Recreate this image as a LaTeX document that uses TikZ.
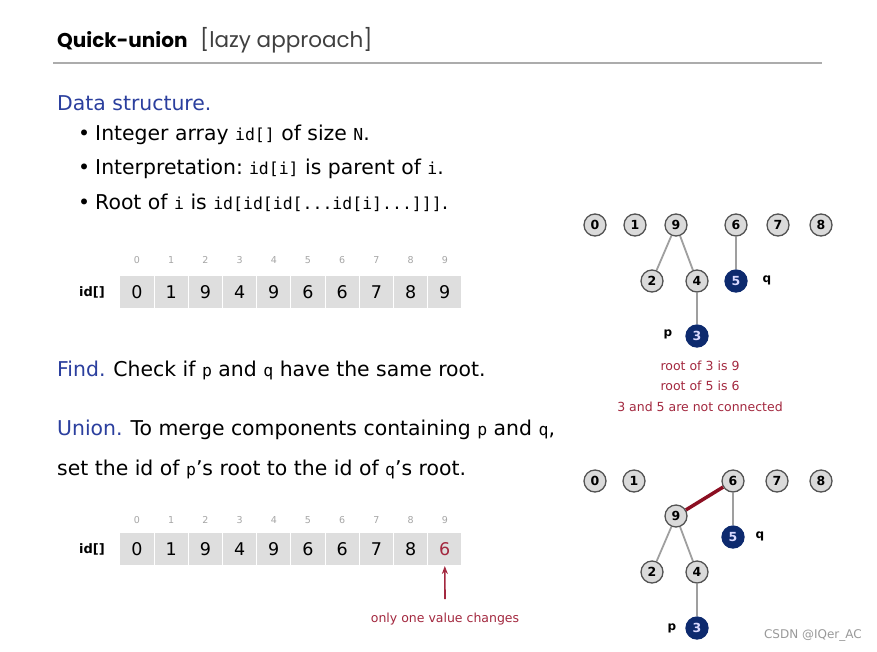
\documentclass[tikz,border=0pt]{standalone}
\usepackage{fontspec}
\setmainfont{DejaVu Sans}
\setmonofont{DejaVu Sans Mono}
\newfontfamily\titlefont{Poppins}
\usetikzlibrary{arrows.meta}
\definecolor{headblue}{HTML}{2B3F9E}
\definecolor{notered}{HTML}{A3283F}
\definecolor{cellgray}{HTML}{DEDEDE}
\definecolor{nodegray}{HTML}{DADADA}
\definecolor{navy}{HTML}{0D2A6E}
\definecolor{darkred}{HTML}{8C0F22}
\tikzset{
  body/.style={anchor=west, inner sep=0pt, font=\fontsize{20.4}{24}\selectfont},
  head/.style={body, text=headblue},
  cell/.style={draw=white, line width=1pt, fill=cellgray, minimum width=34.2pt, minimum height=33pt, inner sep=0pt, font=\fontsize{17.5}{20}\selectfont},
  idx/.style={inner sep=0pt, text=gray!70, font=\fontsize{9.5}{12}\selectfont},
  arrlabel/.style={inner sep=0pt, font=\fontsize{13}{16}\selectfont\bfseries},
  tn/.style={circle, draw=gray!65!black, line width=1.3pt, fill=nodegray, minimum size=22pt, inner sep=0pt, font=\fontsize{12.5}{14}\selectfont\bfseries},
  dn/.style={tn, draw=navy, fill=navy, text=blue!15!white},
  edge/.style={draw=gray!75, line width=1.8pt},
  redge/.style={draw=darkred, line width=3.5pt},
  pq/.style={inner sep=0pt, font=\fontsize{12}{14}\selectfont\bfseries},
  note/.style={inner sep=0pt, text=notered, font=\fontsize{12.5}{15}\selectfont},
}
\newcommand{\cod}[1]{{\ttfamily\fontsize{16.5}{19}\selectfont #1}}
\begin{document}
\begin{tikzpicture}[x=1pt,y=-1pt]
\useasboundingbox (0,0) rectangle (877,651);
\fill[white] (0,0) rectangle (877,651);

% title
\node[anchor=base west, inner sep=0pt, font=\titlefont\fontsize{20}{26}\selectfont\bfseries] (title) at (57,47) {Quick-union};
\node[anchor=base west, inner sep=0pt, text=black!75, font=\titlefont\fontsize{21.5}{26}\selectfont] (sub) at (200,47) {[lazy approach]};
\draw[gray!65, line width=1.3pt] (53,63) -- (822,63);

% data structure
\node[head] (ds) at (57,103) {Data structure.};
\node[body] (b1) at (78,135) {\textbullet\hspace{5pt}Integer array \cod{id[]} of size \cod{N}.};
\node[body] (b2) at (78,169) {\textbullet\hspace{5pt}Interpretation:\hspace{6pt}\cod{id[i]} is parent of \cod{i}.};
\node[body] (b3) at (78,203) {\textbullet\hspace{5pt}Root of \cod{i} is \cod{id[id[id[...id[i]...]]]}.};

% array 1
\node[arrlabel] (lab1) at (92,292) {id[]};
\foreach \v [count=\i from 0] in {0,1,9,4,9,6,6,7,8,9} {
  \node[cell] (a\i) at (137+34.2*\i,292) {\v};
  \node[idx] (ai\i) at (137+34.2*\i,260) {\i};
}

% find / union text
\node[body] (find) at (57,370) {\textcolor{headblue}{Find.}\hspace{8pt}Check if \cod{p} and \cod{q} have the same root.};
\node[body] (union) at (57,430) {\textcolor{headblue}{Union.}\hspace{8pt}To merge components containing \cod{p} and \cod{q},};
\node[body] (union2) at (57,469) {set the id of \cod{p}'s root to the id of \cod{q}'s root.};

% array 2
\node[arrlabel] (lab2) at (92,549) {id[]};
\foreach \v [count=\i from 0] in {0,1,9,4,9,6,6,7,8} {
  \node[cell] (b\i) at (137+34.2*\i,549) {\v};
  \node[idx] (bi\i) at (137+34.2*\i,520) {\i};
}
\node[cell, text=notered] (b9) at (137+34.2*9,549) {6};
\node[idx] (bi9) at (137+34.2*9,520) {9};
\coordinate (arrbase) at (445,599);
\draw[notered, line width=1.6pt, -{Stealth[length=8pt,width=6pt]}] (arrbase) -- (b9.south);
\node[note] (chg) at (445,619) {only one value changes};

% tree 1
\node[tn] (p0) at (595,225) {0};
\node[tn] (p1) at (635,225) {1};
\node[tn] (p9) at (676,225) {9};
\node[tn] (p6) at (736,225) {6};
\node[tn] (p7) at (778,225) {7};
\node[tn] (p8) at (821,225) {8};
\node[tn] (p2) at (652,281) {2};
\node[tn] (p4) at (697,281) {4};
\node[dn] (p5) at (736,281) {5};
\node[dn] (p3) at (697,336) {3};
\draw[edge] (p9) -- (p2);
\draw[edge] (p9) -- (p4);
\draw[edge] (p4) -- (p3);
\draw[edge] (p6) -- (p5);
\node[pq] (q1) at (767,280) {q};
\node[pq] (pp1) at (668,334) {p};
\node[note] (n1) at (700,366) {root of 3 is 9};
\node[note] (n2) at (700,386) {root of 5 is 6};
\node[note] (n3) at (700,407) {3 and 5 are not connected};

% tree 2
\node[tn] (r0) at (595,481) {0};
\node[tn] (r1) at (634,481) {1};
\node[tn] (r6) at (733,481) {6};
\node[tn] (r7) at (777,481) {7};
\node[tn] (r8) at (821,481) {8};
\node[tn] (r9) at (676,516) {9};
\node[dn] (r5) at (733,537) {5};
\node[tn] (r2) at (652,572) {2};
\node[tn] (r4) at (697,572) {4};
\node[dn] (r3) at (697,628) {3};
\draw[redge] (r9) -- (r6);
\draw[edge] (r6) -- (r5);
\draw[edge] (r9) -- (r2);
\draw[edge] (r9) -- (r4);
\draw[edge] (r4) -- (r3);
\node[pq] (q2) at (760,536) {q};
\node[pq] (pp2) at (672,628) {p};

% watermark
\node[inner sep=0pt, text=gray!80, font=\fontsize{12}{14}\selectfont, anchor=east] (wm) at (862,635) {CSDN @IQer\_AC};
\end{tikzpicture}
\end{document}
